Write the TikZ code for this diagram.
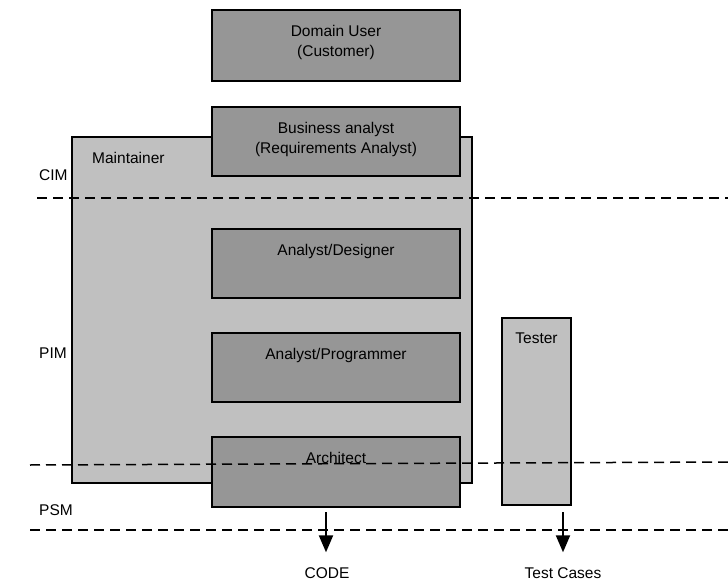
\documentclass[tikz,border=0pt]{standalone}
\usepackage{fontspec}
\setmainfont{Liberation Sans}
\usetikzlibrary{arrows.meta}
\definecolor{darkbox}{HTML}{969696}
\definecolor{lightbox}{HTML}{C0C0C0}
\begin{document}
\begin{tikzpicture}[x=1pt,y=-1pt,
  role/.style={draw=black,line width=1.5pt,fill=darkbox,inner sep=0pt,minimum width=248pt,minimum height=70pt},
  outer/.style={draw=black,line width=1.5pt,fill=lightbox,inner sep=0pt},
  txt/.style={font=\fontsize{15.5}{19.5}\selectfont,align=center,inner sep=0pt,text=black},
  level/.style={dash pattern=on 10pt off 6pt,line width=1.5pt},
  arr/.style={line width=2pt,-{Triangle[length=17pt,width=14pt]}}
]
\useasboundingbox (0,0) rectangle (728,583);
% outer boxes
\node[outer,minimum width=400pt,minimum height=346pt] (maint) at (272,310) {};
\node[outer,minimum width=69pt,minimum height=187pt] (tester) at (536.5,411.5) {};
% role boxes
\node[role,minimum height=71pt] (du) at (336,45.5) {};
\node[role,minimum height=69pt] (ba) at (336,141.5) {};
\node[role,minimum height=69pt] (ad) at (336,263.5) {};
\node[role,minimum height=69pt] (ap) at (336,367.5) {};
\node[role,minimum height=70pt] (arch) at (336,472) {};
% level lines
\coordinate (c1a) at (37,198); \coordinate (c1b) at (728,198);
\coordinate (c2a) at (30,465); \coordinate (c2b) at (728,462);
\coordinate (c3a) at (30,530); \coordinate (c3b) at (728,530);
\draw[level] (c1a) -- (c1b);
\draw[level] (c2a) -- (c2b);
\draw[level] (c3a) -- (c3b);
% texts
\node[txt,anchor=north] (dut) at ([yshift=-16pt]du.north) {Domain User\\(Customer)};
\node[txt,anchor=north] (bat) at ([yshift=-16pt]ba.north) {Business analyst\\(Requirements Analyst)};
\node[txt,anchor=north] (adt) at ([yshift=-15.5pt]ad.north) {Analyst/Designer};
\node[txt,anchor=north] (apt) at ([yshift=-15.5pt]ap.north) {Analyst/Programmer};
\node[txt,anchor=north] (archt) at ([yshift=-15.5pt]arch.north) {Architect};
\node[txt,anchor=north] (testt) at ([yshift=-15pt]tester.north) {Tester};
\node[txt,anchor=west] (mt) at (92,158) {Maintainer};
\node[txt,anchor=west] (cim) at (39,175) {CIM};
\node[txt,anchor=west] (pim) at (39,353) {PIM};
\node[txt,anchor=west] (psm) at (39,510) {PSM};
\node[txt] (code) at (327,573) {CODE};
\node[txt] (tc) at (563,573) {Test Cases};
% arrows
\coordinate (s1) at (326,512);
\coordinate (s2) at (563,512);
\draw[arr,shorten >=15pt] (s1) -- (s1 |- code.north);
\draw[arr,shorten >=15pt] (s2) -- (s2 |- tc.north);
\end{tikzpicture}
\end{document}
